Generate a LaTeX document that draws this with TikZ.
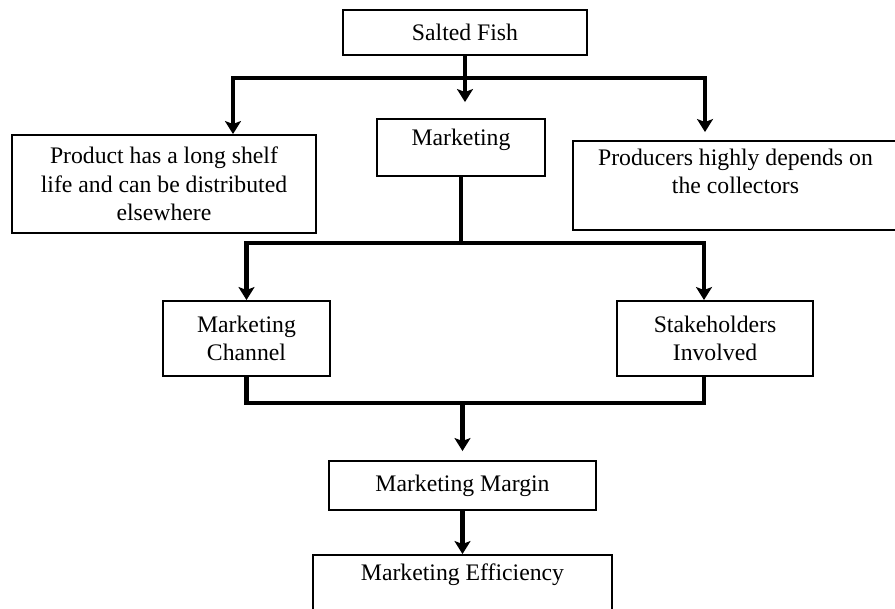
\documentclass[tikz,border=0pt]{standalone}
\usepackage{fontspec}
\setmainfont{Liberation Serif}
\usepackage{tikz}
\usetikzlibrary{arrows.meta,positioning,calc}
\tikzstyle{box} = [rectangle, draw, line width=1.1pt, align=center, inner sep=2pt, font=\fontsize{13.5}{16.2}\selectfont]
\tikzstyle{link} = [line width=2.5pt]
\tikzstyle{arrow} = [link, -{Stealth[length=0.26cm,width=0.32cm,inset=0.06cm]}]

\begin{document}
\begin{tikzpicture}[x=0.02cm, y=-0.02cm]
    \useasboundingbox (0,0) rectangle (895,608);
    \node[box, minimum width=4.88cm, minimum height=0.9cm] (fish) at (465,32.5) {Salted Fish};
    \node[box, minimum width=3.36cm, minimum height=1.14cm] (mkt) at (461,147.5) {Marketing\\[-5pt]\mbox{}};
    \node[box, minimum width=6.08cm, minimum height=1.96cm] (shelf) at (164,184) {Product has a long shelf\\life and can be distributed\\elsewhere};
    \node[box, minimum width=6.5cm, minimum height=1.78cm] (prod) at (735.5,185.5) {Producers highly depends on\\the collectors\\\mbox{}};
    \coordinate (split) at ($(fish.south)+(0,22)$);
    \draw[arrow, shorten >=0.32cm] (fish.south) -- (fish.south |- mkt.north);
    \draw[arrow] (split) -| ([xshift=1.38cm]shelf.north);
    \draw[arrow, shorten >=0.16cm] (split) -| ([xshift=-0.61cm]prod.north);
    \node[box, minimum width=3.34cm, minimum height=1.5cm] (chan) at (246.5,338.5) {Marketing\\Channel};
    \node[box, minimum width=3.92cm, minimum height=1.5cm] (stake) at (715,338.5) {Stakeholders\\Involved};
    \coordinate (mid) at ($(mkt.south)+(0,66)$);
    \draw[link] (mkt.south) -- (mid);
    \draw[arrow] (mid) -| (chan.north);
    \draw[arrow] (mid) -| ([xshift=-0.22cm]stake.north);
    \node[box, minimum width=5.34cm, minimum height=0.98cm] (margin) at (462.5,485.5) {Marketing Margin};
    \node[box, minimum width=5.98cm, minimum height=1.2cm] (eff) at (462.5,585) {Marketing Efficiency\\[-2pt]\mbox{}};
    \coordinate (low) at ($(chan.south)+(0,26)$);
    \draw[link] (chan.south) -- (low) -| ([xshift=-0.22cm]stake.south);
    \draw[arrow, shorten >=0.18cm] (margin.north |- low) -- (margin.north);
    \draw[arrow] (margin.south) -- (eff.north);
\end{tikzpicture}
\end{document}
